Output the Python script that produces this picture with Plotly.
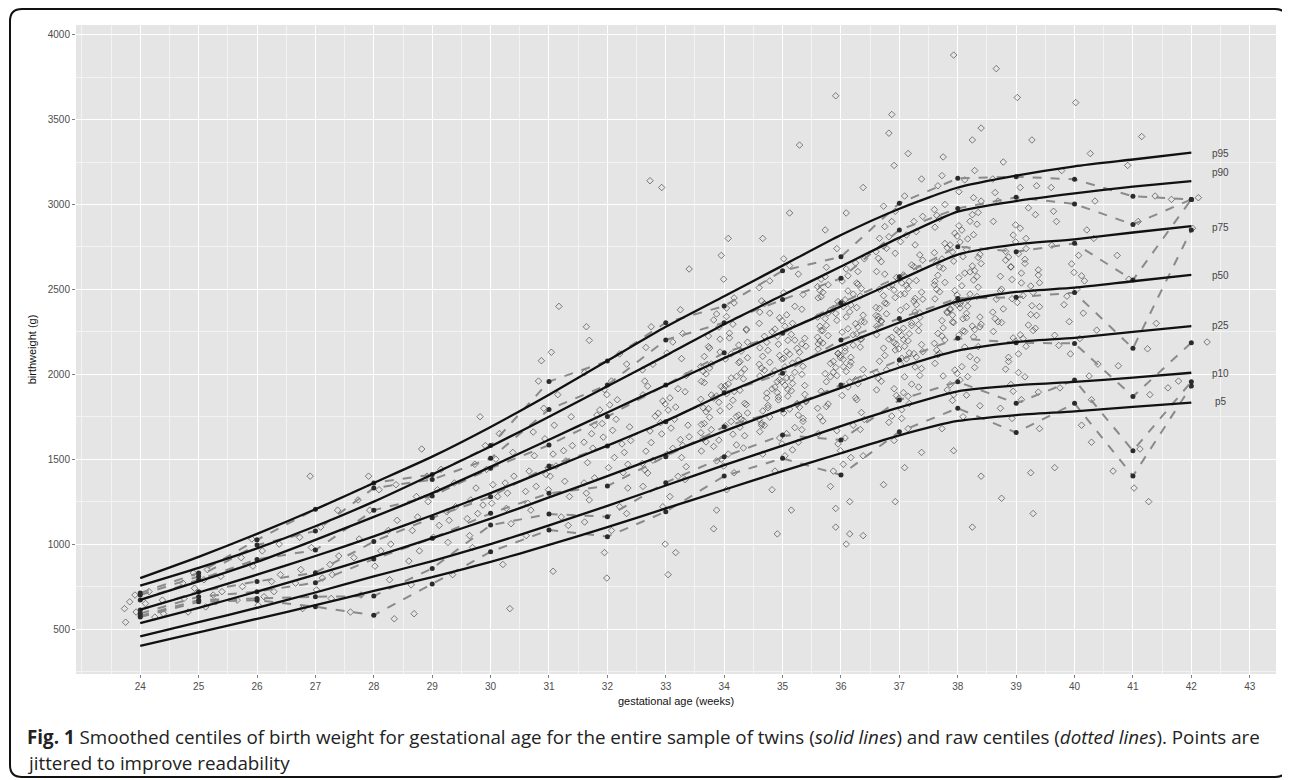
import plotly.graph_objects as go

# ---------------- data ----------------
weeks = list(range(24, 43))
x_tick_weeks = list(range(24, 44))
y_ticks = [500, 1000, 1500, 2000, 2500, 3000, 3500, 4000]

# smoothed centiles (solid lines)
smooth_p95 = [800, 925, 1060, 1205, 1360, 1515, 1690, 1880, 2080, 2280, 2460, 2640, 2820, 2975, 3100, 3170, 3225, 3265, 3305]
smooth_p90 = [755, 860, 975, 1105, 1250, 1410, 1575, 1750, 1930, 2110, 2295, 2465, 2635, 2805, 2958, 3020, 3065, 3105, 3138]
smooth_p75 = [671, 780, 895, 1025, 1160, 1300, 1455, 1615, 1775, 1935, 2095, 2250, 2400, 2555, 2705, 2765, 2795, 2835, 2873]
smooth_p50 = [614, 715, 820, 930, 1045, 1170, 1300, 1440, 1580, 1725, 1885, 2030, 2170, 2305, 2430, 2485, 2510, 2548, 2585]
smooth_p25 = [534, 625, 720, 820, 925, 1035, 1150, 1275, 1400, 1530, 1665, 1795, 1920, 2040, 2140, 2190, 2215, 2250, 2284]
smooth_p10 = [457, 540, 625, 715, 810, 900, 1000, 1110, 1225, 1345, 1465, 1580, 1695, 1805, 1900, 1935, 1955, 1980, 2009]
smooth_p5 = [400, 480, 560, 640, 725, 805, 895, 995, 1100, 1210, 1320, 1430, 1535, 1640, 1725, 1760, 1782, 1808, 1833]

# raw centiles (dashed lines)
raw_p95 = [712, 830, 1025, 1205, 1360, 1410, 1580, 1957, 2078, 2304, 2402, 2610, 2692, 3007, 3154, 3164, 3148, 3048, 3030]
raw_p90 = [700, 810, 995, 1077, 1330, 1380, 1505, 1793, 1937, 2202, 2304, 2440, 2565, 2850, 2977, 3042, 3003, 2882, 3030]
raw_p75 = [671, 790, 910, 965, 1200, 1283, 1446, 1583, 1751, 1937, 2127, 2241, 2420, 2575, 2751, 2722, 2771, 2555, 3030]
raw_p50 = [612, 720, 780, 832, 1015, 1155, 1279, 1460, 1578, 1721, 1892, 2006, 2202, 2329, 2447, 2453, 2481, 2153, 2850]
raw_p25 = [592, 690, 720, 773, 912, 1034, 1181, 1299, 1342, 1515, 1691, 1790, 1937, 2084, 2212, 2186, 2182, 1869, 2186]
raw_p10 = [578, 670, 680, 690, 694, 857, 1112, 1177, 1161, 1362, 1515, 1643, 1613, 1849, 1956, 1829, 1966, 1550, 1956]
raw_p5 = [570, 660, 670, 631, 581, 765, 955, 1083, 1044, 1191, 1401, 1505, 1407, 1662, 1800, 1657, 1829, 1401, 1931]

centile_labels = ["p5", "p10", "p25", "p50", "p75", "p90", "p95"]
centile_label_y = [1837, 2002, 2290, 2579, 2867, 3191, 3303]
label_week = 42.5

# observed birthweights (g) per completed week, read from the jittered cloud
bw_wk24 = [540, 570, 590, 600, 620, 650, 670, 700, 720, 660]
bw_wk25 = [630, 660, 680, 700, 720, 740, 770, 790, 810, 830, 850, 600]
bw_wk26 = [640, 670, 690, 720, 750, 780, 820, 870, 920, 960, 1000, 1030]
bw_wk27 = [620, 680, 730, 770, 800, 820, 850, 880, 930, 980, 1040, 1100, 1200, 1400]
bw_wk28 = [560, 600, 700, 790, 870, 920, 960, 1000, 1030, 1080, 1140, 1200, 1260, 1320, 1350, 1400]
bw_wk29 = [590, 760, 820, 900, 960, 1010, 1040, 1080, 1110, 1140, 1160, 1190, 1220, 1250, 1280, 1320, 1360, 1400, 1440, 1560]
bw_wk30 = [620, 880, 980, 1050, 1120, 1150, 1180, 1210, 1240, 1260, 1280, 1300, 1330, 1360, 1400, 1440, 1470, 1500,
           1540, 1580, 1650, 1750, 1230, 1350]
bw_wk31 = [840, 1050, 1110, 1160, 1200, 1240, 1280, 1310, 1340, 1370, 1400, 1430, 1460, 1490, 1520, 1550, 1580, 1620,
           1660, 1700, 1750, 1800, 1880, 1960, 2080, 2130, 2400, 1320, 1410, 1530]
bw_wk32 = [800, 950, 1080, 1130, 1180, 1220, 1260, 1300, 1330, 1360, 1390, 1420, 1450, 1480, 1510, 1540, 1565, 1590,
           1610, 1630, 1650, 1670, 1690, 1710, 1735, 1760, 1790, 1820, 1850, 1880, 1910, 1960, 2010, 2060, 2120, 2200,
           2280, 1470, 1600, 1700]
bw_wk33 = [820, 950, 1000, 1220, 1280, 1340, 1380, 1399, 1418, 1437, 1456, 1475, 1494, 1510, 1530, 1547, 1564, 1581,
           1598, 1615, 1632, 1649, 1666, 1683, 1700, 1715, 1735, 1753, 1771, 1789, 1807, 1825, 1843, 1861, 1879, 1897,
           1915, 1930, 1960, 1993, 2026, 2059, 2092, 2125, 2158, 2190, 2240, 2280, 2380, 2620, 3100, 3140]
bw_wk34 = [1090, 1200, 1320, 1420, 1460, 1500, 1530, 1548, 1566, 1584, 1602, 1620, 1638, 1656, 1674, 1688, 1697, 1710,
           1722, 1735, 1747, 1760, 1772, 1785, 1797, 1810, 1822, 1835, 1847, 1860, 1872, 1885, 1899, 1914, 1928, 1943,
           1958, 1973, 1987, 2002, 2017, 2031, 2046, 2061, 2075, 2090, 2105, 2120, 2136, 2154, 2172, 2189, 2207, 2225,
           2242, 2260, 2278, 2295, 2320, 2355, 2390, 2450, 2560, 2700, 2800,
           1705, 1728, 1752, 1779, 1803, 1829, 1853, 1878, 1906, 1932, 1951, 1979, 2008, 2037, 2068, 2097, 2131, 2163,
           2214, 2266, 1612, 1647, 1575, 1490, 2340, 2420]
bw_wk35 = [1060, 1200, 1320, 1430, 1520, 1555, 1590, 1625, 1650, 1662, 1674, 1686, 1699, 1711, 1723, 1735, 1748, 1760,
           1772, 1784, 1795, 1806, 1817, 1828, 1838, 1849, 1860, 1871, 1882, 1892, 1903, 1914, 1925, 1936, 1946, 1957,
           1968, 1979, 1990, 2000, 2012, 2024, 2036, 2047, 2059, 2071, 2083, 2094, 2106, 2118, 2130, 2141, 2153, 2165,
           2177, 2188, 2200, 2212, 2224, 2235, 2250, 2266, 2283, 2300, 2316, 2333, 2350, 2366, 2383, 2400, 2416, 2432,
           2470, 2510, 2550, 2590, 2680, 2800, 2950, 3350,
           1803, 1822, 1845, 1866, 1889, 1911, 1934, 1957, 1979, 2002, 2021, 2044, 2066, 2089, 2111, 2134, 2156, 2179,
           2201, 2224, 1700, 1740, 2300, 2360, 1600, 2480, 1530, 2640]
bw_wk36 = [1000, 1050, 1100, 1250, 1340, 1430, 1470, 1510, 1550, 1590, 1625, 1650, 1675, 1700, 1725, 1750, 1775, 1800,
           1825, 1850, 1875, 1900, 1925, 1944, 1956, 1968, 1980, 1992, 2004, 2016, 2028, 2040, 2052, 2064, 2076, 2088,
           2100, 2112, 2124, 2136, 2148, 2160, 2172, 2184, 2196, 2208, 2218, 2228, 2238, 2248, 2258, 2268, 2278, 2288,
           2298, 2308, 2318, 2328, 2338, 2348, 2358, 2368, 2378, 2388, 2398, 2408, 2416, 2428, 2439, 2450, 2461, 2472,
           2483, 2494, 2505, 2516, 2527, 2538, 2549, 2560, 2580, 2605, 2630, 2655, 2680, 2740, 2850, 2950, 3100, 3640,
           1955, 1985, 2012, 2045, 2071, 2097, 2121, 2155, 2179, 2205, 2233, 2257, 2283, 2311, 2337, 2361, 2393, 2422,
           2456, 2491, 2530, 1810, 1862, 1734, 1668, 2575, 2620, 1520, 1210, 1060]
bw_wk37 = [1250, 1350, 1450, 1540, 1610, 1680, 1717, 1754, 1791, 1828, 1858, 1875, 1892, 1908, 1925, 1942, 1959, 1976,
           1993, 2010, 2026, 2043, 2060, 2077, 2090, 2101, 2111, 2122, 2133, 2143, 2154, 2165, 2175, 2186, 2197, 2207,
           2218, 2229, 2239, 2250, 2261, 2271, 2282, 2293, 2303, 2314, 2324, 2335, 2346, 2356, 2367, 2378, 2388, 2399,
           2410, 2420, 2431, 2442, 2452, 2463, 2474, 2484, 2495, 2506, 2516, 2527, 2538, 2548, 2559, 2570, 2585, 2605,
           2624, 2644, 2663, 2683, 2703, 2722, 2742, 2762, 2781, 2801, 2820, 2840, 2870, 2900, 2930, 2960, 2990, 3050,
           3150, 3230, 3300, 3420, 3530,
           2095, 2126, 2149, 2178, 2204, 2233, 2256, 2287, 2311, 2341, 2362, 2393, 2416, 2447, 2470, 2501, 2523, 2552,
           2590, 2634, 2672, 2713, 2755, 1985, 2034, 1915, 1870, 2810, 2900, 1740]
bw_wk38 = [1100, 1400, 1550, 1680, 1750, 1815, 1846, 1877, 1908, 1939, 1966, 1986, 2005, 2025, 2045, 2064, 2084, 2104,
           2123, 2143, 2163, 2182, 2202, 2220, 2231, 2241, 2252, 2263, 2273, 2284, 2295, 2305, 2316, 2327, 2337, 2348,
           2359, 2369, 2380, 2391, 2401, 2412, 2423, 2433, 2444, 2458, 2472, 2486, 2500, 2513, 2527, 2541, 2555, 2569,
           2583, 2596, 2610, 2624, 2638, 2652, 2666, 2679, 2693, 2707, 2721, 2735, 2745, 2762, 2779, 2797, 2814, 2831,
           2849, 2866, 2884, 2901, 2918, 2936, 2953, 2970, 3000, 3040, 3075, 3110, 3145, 3200, 3280, 3380, 3450, 3880,
           2225, 2256, 2279, 2308, 2333, 2362, 2386, 2415, 2438, 2466, 2493, 2521, 2548, 2576, 2603, 2631, 2659, 2688,
           2716, 2770, 2822, 2875, 2115, 2160, 2040, 1990, 2940, 3020, 1880, 3170]
bw_wk39 = [1180, 1270, 1420, 1680, 1740, 1800, 1850, 1895, 1940, 1985, 2030, 2075, 2120, 2165, 2195, 2214, 2233, 2252,
           2271, 2290, 2309, 2328, 2347, 2366, 2385, 2404, 2423, 2442, 2463, 2482, 2501, 2520, 2539, 2558, 2577, 2596,
           2615, 2634, 2653, 2672, 2691, 2710, 2740, 2780, 2820, 2860, 2900, 2940, 2980, 3020, 3070, 3110, 3150, 3250,
           3380, 3630, 3800,
           2210, 2258, 2305, 2352, 2398, 2445, 2491, 2538, 2584, 2631, 2677, 2724, 2100, 2010, 2800, 2880, 1900, 3100]
bw_wk40 = [1450, 1700, 1850, 1920, 1990, 2060, 2120, 2170, 2210, 2260, 2310, 2360, 2410, 2460, 2500, 2550, 2600, 2650,
           2700, 2760, 2800, 2850, 2900, 2960, 3020, 3100, 3200, 3300, 3600, 2230, 2580, 1600]
bw_wk41 = [1250, 1330, 1430, 1560, 1880, 2050, 2150, 2300, 2560, 2700, 2900, 3050, 3230, 3400]
bw_wk42 = [1920, 1960, 2190, 2860, 3030, 3040]

# horizontal jitter (weeks) applied to the observations
jitter_offsets = [-0.31, 0.12, 0.38, -0.05, -0.40, 0.25, -0.18, 0.33, 0.02, -0.27, 0.17, -0.36, 0.29, -0.09, 0.07,
                  -0.22, 0.40, -0.13, 0.21, -0.34, 0.09, -0.01, 0.35, -0.25, 0.15, -0.39, 0.27, -0.07, 0.04]

caption_line1 = ("<b>Fig. 1</b> Smoothed centiles of birth weight for gestational age for the entire sample of twins "
                 "(<i>solid lines</i>) and raw centiles (<i>dotted lines</i>). Points are")
caption_line2 = "jittered to improve readability"

# ---------------- figure ----------------
obs_by_week = [bw_wk24, bw_wk25, bw_wk26, bw_wk27, bw_wk28, bw_wk29, bw_wk30, bw_wk31, bw_wk32, bw_wk33,
               bw_wk34, bw_wk35, bw_wk36, bw_wk37, bw_wk38, bw_wk39, bw_wk40, bw_wk41, bw_wk42]
obs_x, obs_y = [], []
n_j = len(jitter_offsets)
for w, vals in zip(weeks, obs_by_week):
    for i, v in enumerate(vals):
        obs_x.append(w + jitter_offsets[(i * 11 + 7 * w) % n_j])
        obs_y.append(v)

smooth = [smooth_p5, smooth_p10, smooth_p25, smooth_p50, smooth_p75, smooth_p90, smooth_p95]
raw = [raw_p5, raw_p10, raw_p25, raw_p50, raw_p75, raw_p90, raw_p95]

fig = go.Figure()
fig.add_trace(go.Scatter(
    x=obs_x, y=obs_y, mode="markers",
    marker=dict(symbol="diamond-open", size=5, color="rgba(50,50,50,0.6)", line=dict(width=1)),
    hoverinfo="skip"))

for r in raw:
    fig.add_trace(go.Scatter(
        x=weeks, y=r, mode="lines+markers",
        line=dict(color="#8a8a8a", width=2, dash="dash"),
        marker=dict(color="#2b2b2b", size=5),
        hoverinfo="skip"))

for s in smooth:
    fig.add_trace(go.Scatter(
        x=weeks, y=s, mode="lines",
        line=dict(color="#111111", width=2.3, shape="spline", smoothing=0.6),
        hoverinfo="skip"))

for lab, ly in zip(centile_labels, centile_label_y):
    fig.add_annotation(x=label_week, y=ly, text=lab, showarrow=False, xanchor="center", yanchor="middle",
                       font=dict(family="Liberation Sans Narrow, Liberation Sans, Arial", size=10, color="#444444"))

# page body adds an 8px margin, so the figure is 8px smaller and everything is placed in page pixels
# plot area in page pixels: x 76..1276, y 25..674
def px(xp):
    return (xp - 76) / 1200.0

def py(yp):
    return (674 - yp) / 649.0

L, R, T, B = px(10), px(1287), py(9), py(777)
rx, ry = 12 / 1200.0, 12 / 649.0
path = (f"M {L+rx},{T} L {R-rx},{T} Q {R},{T} {R},{T-ry} L {R},{B+ry} Q {R},{B} {R-rx},{B} "
        f"L {L+rx},{B} Q {L},{B} {L},{B+ry} L {L},{T-ry} Q {L},{T} {L+rx},{T} Z")
fig.add_shape(type="path", xref="paper", yref="paper", path=path, line=dict(color="#111111", width=2))

fig.add_annotation(xref="paper", yref="paper", x=px(25), y=py(737), text=caption_line1, showarrow=False,
                   xanchor="left", yanchor="middle", align="left",
                   font=dict(family="Open Sans", size=18.8, color="#222222"))
fig.add_annotation(xref="paper", yref="paper", x=px(25), y=py(763), text=caption_line2, showarrow=False,
                   xanchor="left", yanchor="middle", align="left",
                   font=dict(family="Open Sans", size=18.8, color="#222222"))

tick_font = dict(family="Liberation Sans Narrow, Liberation Sans, Arial", size=10, color="#4D4D4D")
title_font = dict(family="Liberation Sans Narrow, Liberation Sans, Arial", size=11, color="#111111")

fig.update_layout(
    width=1282, height=772,
    margin=dict(l=68, r=14, t=17, b=106),
    paper_bgcolor="white", plot_bgcolor="#E5E5E5",
    showlegend=False,
    xaxis=dict(range=[22.9, 43.45], tickmode="array", tickvals=x_tick_weeks,
               ticks="outside", ticklen=3, tickcolor="#7F7F7F", tickfont=tick_font,
               showgrid=True, gridcolor="white", gridwidth=1.1, zeroline=False, showline=False,
               minor=dict(tickmode="linear", tick0=0, dtick=0.5, showgrid=True, gridcolor="#F3F3F3", gridwidth=0.7),
               title=dict(text="gestational age (weeks)", font=title_font, standoff=6)),
    yaxis=dict(range=[235, 4057], tickmode="array", tickvals=y_ticks,
               ticks="outside", ticklen=3, tickcolor="#7F7F7F", tickfont=tick_font,
               showgrid=True, gridcolor="white", gridwidth=1.1, zeroline=False, showline=False,
               minor=dict(tickmode="linear", tick0=0, dtick=250, showgrid=True, gridcolor="#F3F3F3", gridwidth=0.7),
               title=dict(text="birthweight (g)", font=title_font, standoff=8)),
)

fig.write_html("out.html")
